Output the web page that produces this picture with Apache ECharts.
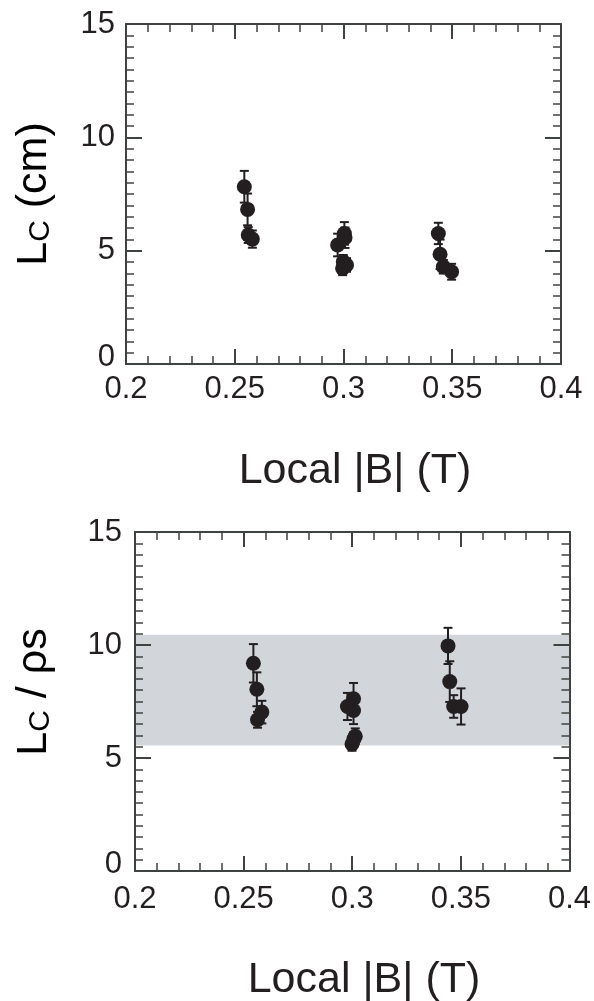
<!DOCTYPE html>
<html lang="en">
<head>
    <meta charset="UTF-8">
    <title>Lc vs local |B|</title>
    <script src="https://cdn.jsdelivr.net/npm/echarts@6/dist/echarts.min.js"></script>
    <style>
        html, body { margin: 0; padding: 0; background: #fff; }
        #chart { width: 594px; height: 1001px; }
    </style>
</head>
<body>
    <div id="chart"></div>

    <script>
        // top panel: Lc (cm) against local |B| (T)
        var lcB   = [0.2544, 0.2559, 0.2562, 0.2581, 0.2973, 0.3004, 0.3007, 0.2999, 0.3014, 0.2996, 0.3436, 0.3444, 0.3459, 0.3497];
        var lcVal = [7.82, 6.82, 5.69, 5.51, 5.25, 5.76, 5.57, 4.51, 4.37, 4.22, 5.76, 4.84, 4.29, 4.07];
        var lcErr = [0.7, 0.7, 0.35, 0.38, 0.5, 0.5, 0.45, 0.3, 0.3, 0.3, 0.47, 0.65, 0.3, 0.35];

        // bottom panel: Lc / rho_s
        var rhoB   = [0.2545, 0.2561, 0.2584, 0.2564, 0.2978, 0.3006, 0.3006, 0.3014, 0.2999, 0.3008, 0.3441, 0.3449, 0.3467, 0.3501];
        var rhoVal = [9.19, 8.04, 7.03, 6.69, 7.28, 7.62, 7.10, 5.96, 5.62, 5.85, 9.96, 8.38, 7.28, 7.28];
        var rhoErr = [0.85, 0.75, 0.5, 0.35, 0.6, 0.7, 0.6, 0.35, 0.3, 0.3, 0.8, 0.9, 0.5, 0.8];

        // shaded band in the bottom panel
        var band = [5.55, 10.45];

        var xRange = [0.2, 0.4, 0.05];
        var yRange = [0, 15, 5];

        var ink = '#231f20';
        var frame = '#3f433f';
        var font = "'Liberation Sans', Arial, sans-serif";

        function pts(xs, ys) {
            return xs.map(function (x, i) { return [x, ys[i]]; });
        }
        function errs(xs, ys, es) {
            return xs.map(function (x, i) { return [x, ys[i], es[i]]; });
        }

        function xAxisFor(grid, pos, show, margin) {
            return {
                type: 'value', gridIndex: grid, position: pos,
                min: xRange[0], max: xRange[1], interval: xRange[2],
                z: 5,
                axisLine: { show: true, onZero: false, lineStyle: { color: frame, width: 2 } },
                axisTick: { show: true, inside: true, length: 15, lineStyle: { color: frame, width: 2 } },
                minorTick: { show: true, splitNumber: 5, length: 8, lineStyle: { color: frame, width: 1.5 } },
                splitLine: { show: false },
                axisLabel: { show: show, fontSize: 31, margin: margin, color: ink, fontFamily: font }
            };
        }
        function yAxisFor(grid, pos, show, margin) {
            return {
                type: 'value', gridIndex: grid, position: pos,
                min: yRange[0], max: yRange[1], interval: yRange[2],
                z: 5,
                axisLine: { show: true, onZero: false, lineStyle: { color: frame, width: 2 } },
                axisTick: { show: true, inside: true, length: 16, lineStyle: { color: frame, width: 2 } },
                minorTick: { show: true, splitNumber: 10, length: 8, lineStyle: { color: frame, width: 1.5 } },
                splitLine: { show: false },
                axisLabel: {
                    show: show, fontSize: 31, margin: margin, color: ink, fontFamily: font,
                    formatter: function (v) { return v === 0 ? '{z|0}' : String(v); },
                    rich: { z: { fontSize: 31, fontFamily: font, color: ink, padding: [0, 0, 14, 0] } }
                }
            };
        }

        function errorBars(xi, yi, data) {
            return {
                type: 'custom', xAxisIndex: xi, yAxisIndex: yi, z: 4, silent: true,
                data: data,
                renderItem: function (params, api) {
                    var x = api.value(0), y = api.value(1), e = api.value(2);
                    var hi = api.coord([x, y + e]);
                    var lo = api.coord([x, y - e]);
                    var w = 4.5;
                    var st = { stroke: ink, lineWidth: 2 };
                    return {
                        type: 'group',
                        children: [
                            { type: 'line', shape: { x1: hi[0], y1: hi[1], x2: lo[0], y2: lo[1] }, style: st },
                            { type: 'line', shape: { x1: hi[0] - w, y1: hi[1], x2: hi[0] + w, y2: hi[1] }, style: st },
                            { type: 'line', shape: { x1: lo[0] - w, y1: lo[1], x2: lo[0] + w, y2: lo[1] }, style: st }
                        ]
                    };
                }
            };
        }

        var richTitle = {
            m: { fontSize: 43, fontFamily: font, color: ink },
            s: { fontSize: 30, fontFamily: font, color: ink, verticalAlign: 'bottom' }
        };

        var myChart = echarts.init(document.getElementById('chart'));
        var option = {
            animation: false,
            backgroundColor: '#fff',
            grid: [
                { left: 126, top: 24, width: 435, height: 340 },
                { left: 135, top: 532, width: 435, height: 339 }
            ],
            xAxis: [
                xAxisFor(0, 'bottom', true, 10),
                xAxisFor(0, 'top', false, 0),
                xAxisFor(1, 'bottom', true, 13),
                xAxisFor(1, 'top', false, 0)
            ],
            yAxis: [
                yAxisFor(0, 'left', true, 11),
                yAxisFor(0, 'right', false, 0),
                yAxisFor(1, 'left', true, 13),
                yAxisFor(1, 'right', false, 0)
            ],
            graphic: [
                {
                    type: 'text', x: 34, y: 194, rotation: Math.PI / 2,
                    style: { text: '{m|L}{s|C}{m| (cm)}', rich: richTitle, align: 'center', verticalAlign: 'middle' }
                },
                {
                    type: 'text', x: 34, y: 692, rotation: Math.PI / 2,
                    style: { text: '{m|L}{s|C}{m| / ρs}', rich: richTitle, align: 'center', verticalAlign: 'middle' }
                },
                {
                    type: 'text', x: 355, y: 471,
                    style: { text: 'Local |B| (T)', fontSize: 43, fontFamily: font, fill: ink, align: 'center', verticalAlign: 'middle' }
                },
                {
                    type: 'text', x: 364, y: 980,
                    style: { text: 'Local |B| (T)', fontSize: 43, fontFamily: font, fill: ink, align: 'center', verticalAlign: 'middle' }
                }
            ],
            series: [
                {
                    type: 'scatter', xAxisIndex: 0, yAxisIndex: 0, z: 3,
                    symbol: 'circle', symbolSize: 15,
                    itemStyle: { color: ink, opacity: 1 },
                    data: pts(lcB, lcVal)
                },
                errorBars(0, 0, errs(lcB, lcVal, lcErr)),
                {
                    type: 'scatter', xAxisIndex: 2, yAxisIndex: 2, z: 3,
                    symbol: 'circle', symbolSize: 15,
                    itemStyle: { color: ink, opacity: 1 },
                    markArea: {
                        silent: true,
                        itemStyle: { color: '#d2d5da', opacity: 1 },
                        data: [[{ yAxis: band[0] }, { yAxis: band[1] }]]
                    },
                    data: pts(rhoB, rhoVal)
                },
                errorBars(2, 2, errs(rhoB, rhoVal, rhoErr))
            ]
        };
        myChart.setOption(option);
    </script>
</body>
</html>
